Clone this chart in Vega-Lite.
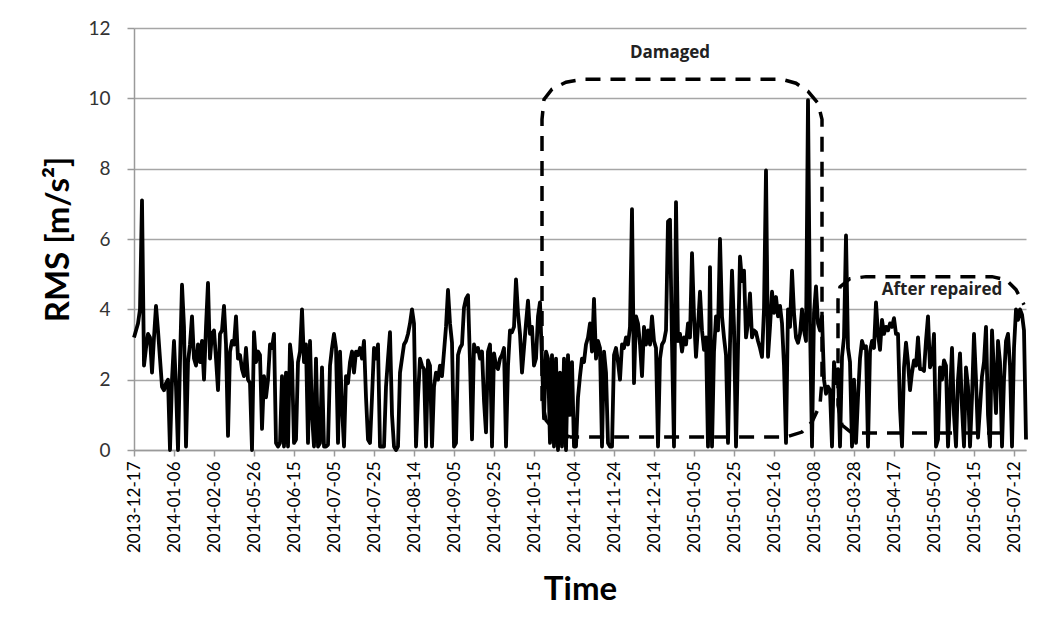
{
"$schema": "https://vega.github.io/schema/vega-lite/v6.json",
"width": 892, "height": 422,
"autosize": {"type": "none"},
"padding": {"left": 134, "top": 28, "right": 19, "bottom": 179},
"background": "white",
"config": {"view": {"stroke": null}, "font": "Lato"},
"datasets": {
"rms": [
{"d":"2013-12-17","v":3.2},{"d":"2013-12-18","v":3.4},{"d":"2013-12-19","v":3.6},{"d":"2013-12-20","v":4.0},{"d":"2013-12-21","v":7.1},{"d":"2013-12-22","v":2.4},{"d":"2013-12-23","v":2.9},{"d":"2013-12-24","v":3.3},{"d":"2013-12-25","v":3.2},{"d":"2013-12-26","v":2.2},{"d":"2013-12-27","v":3.2},{"d":"2013-12-28","v":4.1},{"d":"2013-12-29","v":3.4},{"d":"2013-12-30","v":2.6},{"d":"2013-12-31","v":1.8},{"d":"2014-01-01","v":1.7},{"d":"2014-01-02","v":1.9},{"d":"2014-01-03","v":2.0},{"d":"2014-01-04","v":0.0},{"d":"2014-01-05","v":2.0},
{"d":"2014-01-06","v":3.1},{"d":"2014-01-07","v":1.8},{"d":"2014-01-08","v":0.0},{"d":"2014-01-09","v":2.5},{"d":"2014-01-10","v":4.7},{"d":"2014-01-11","v":3.5},{"d":"2014-01-12","v":0.1},{"d":"2014-01-13","v":2.5},{"d":"2014-01-14","v":3.0},{"d":"2014-01-15","v":3.8},{"d":"2014-01-16","v":2.6},{"d":"2014-01-17","v":2.4},{"d":"2014-01-18","v":3.0},{"d":"2014-01-19","v":2.5},{"d":"2014-01-20","v":3.1},{"d":"2014-01-21","v":2.0},{"d":"2014-01-22","v":3.5},{"d":"2014-01-23","v":4.75},{"d":"2014-01-24","v":2.6},{"d":"2014-01-25","v":3.3},
{"d":"2014-02-06","v":3.4},{"d":"2014-02-07","v":2.6},{"d":"2014-02-08","v":1.7},{"d":"2014-02-09","v":3.3},{"d":"2014-02-10","v":3.4},{"d":"2014-02-11","v":4.1},{"d":"2014-02-12","v":3.0},{"d":"2014-02-13","v":0.4},{"d":"2014-02-14","v":2.8},{"d":"2014-02-15","v":3.1},{"d":"2014-02-16","v":3.0},{"d":"2014-02-17","v":3.8},{"d":"2014-02-18","v":2.6},{"d":"2014-02-19","v":2.7},{"d":"2014-02-20","v":2.3},{"d":"2014-02-21","v":2.1},{"d":"2014-02-22","v":2.9},{"d":"2014-02-23","v":2.0},{"d":"2014-02-24","v":1.9},{"d":"2014-02-25","v":0.0},
{"d":"2014-05-26","v":3.35},{"d":"2014-05-27","v":2.5},{"d":"2014-05-28","v":2.8},{"d":"2014-05-29","v":2.7},{"d":"2014-05-30","v":0.6},{"d":"2014-05-31","v":2.1},{"d":"2014-06-01","v":1.5},{"d":"2014-06-02","v":2.0},{"d":"2014-06-03","v":3.0},{"d":"2014-06-04","v":2.9},{"d":"2014-06-05","v":3.3},{"d":"2014-06-06","v":0.2},{"d":"2014-06-07","v":0.1},{"d":"2014-06-08","v":0.2},{"d":"2014-06-09","v":2.1},{"d":"2014-06-10","v":0.1},{"d":"2014-06-11","v":2.2},{"d":"2014-06-12","v":0.1},{"d":"2014-06-13","v":3.0},{"d":"2014-06-14","v":2.5},
{"d":"2014-06-15","v":0.2},{"d":"2014-06-16","v":0.3},{"d":"2014-06-17","v":2.5},{"d":"2014-06-18","v":2.8},{"d":"2014-06-19","v":4.0},{"d":"2014-06-20","v":2.5},{"d":"2014-06-21","v":3.0},{"d":"2014-06-22","v":0.2},{"d":"2014-06-23","v":3.1},{"d":"2014-06-24","v":1.0},{"d":"2014-06-25","v":0.1},{"d":"2014-06-26","v":2.6},{"d":"2014-06-27","v":0.1},{"d":"2014-06-28","v":0.2},{"d":"2014-06-29","v":2.35},{"d":"2014-06-30","v":0.1},{"d":"2014-07-01","v":0.1},{"d":"2014-07-02","v":0.15},{"d":"2014-07-03","v":2.4},{"d":"2014-07-04","v":2.9},
{"d":"2014-07-05","v":3.3},{"d":"2014-07-06","v":2.9},{"d":"2014-07-07","v":0.2},{"d":"2014-07-08","v":2.8},{"d":"2014-07-09","v":1.2},{"d":"2014-07-10","v":0.1},{"d":"2014-07-11","v":2.1},{"d":"2014-07-12","v":1.9},{"d":"2014-07-13","v":2.5},{"d":"2014-07-14","v":2.8},{"d":"2014-07-15","v":2.2},{"d":"2014-07-16","v":2.8},{"d":"2014-07-17","v":2.7},{"d":"2014-07-18","v":2.9},{"d":"2014-07-19","v":2.6},{"d":"2014-07-20","v":3.1},{"d":"2014-07-21","v":1.5},{"d":"2014-07-22","v":0.3},{"d":"2014-07-23","v":0.2},{"d":"2014-07-24","v":1.5},
{"d":"2014-07-25","v":2.9},{"d":"2014-07-26","v":2.6},{"d":"2014-07-27","v":3.0},{"d":"2014-07-28","v":0.1},{"d":"2014-07-29","v":0.1},{"d":"2014-07-30","v":0.1},{"d":"2014-07-31","v":1.8},{"d":"2014-08-01","v":2.6},{"d":"2014-08-02","v":3.35},{"d":"2014-08-03","v":1.0},{"d":"2014-08-04","v":0.1},{"d":"2014-08-05","v":0.0},{"d":"2014-08-06","v":0.1},{"d":"2014-08-07","v":2.2},{"d":"2014-08-08","v":2.6},{"d":"2014-08-09","v":3.0},{"d":"2014-08-10","v":3.1},{"d":"2014-08-11","v":3.3},{"d":"2014-08-12","v":3.6},{"d":"2014-08-13","v":4.0},
{"d":"2014-08-14","v":3.6},{"d":"2014-08-15","v":0.1},{"d":"2014-08-16","v":1.5},{"d":"2014-08-17","v":2.6},{"d":"2014-08-18","v":2.4},{"d":"2014-08-19","v":2.3},{"d":"2014-08-20","v":0.1},{"d":"2014-08-21","v":2.55},{"d":"2014-08-22","v":2.4},{"d":"2014-08-23","v":0.1},{"d":"2014-08-24","v":1.8},{"d":"2014-08-25","v":2.2},{"d":"2014-08-26","v":2.0},{"d":"2014-08-27","v":2.4},{"d":"2014-08-28","v":2.1},{"d":"2014-08-29","v":2.8},{"d":"2014-08-30","v":3.5},{"d":"2014-08-31","v":4.55},{"d":"2014-09-01","v":3.6},{"d":"2014-09-02","v":3.05},
{"d":"2014-09-05","v":0.1},{"d":"2014-09-06","v":0.2},{"d":"2014-09-07","v":2.7},{"d":"2014-09-08","v":2.9},{"d":"2014-09-09","v":3.0},{"d":"2014-09-10","v":4.05},{"d":"2014-09-11","v":4.3},{"d":"2014-09-12","v":4.4},{"d":"2014-09-13","v":2.5},{"d":"2014-09-14","v":0.3},{"d":"2014-09-15","v":3.0},{"d":"2014-09-16","v":2.8},{"d":"2014-09-17","v":2.9},{"d":"2014-09-18","v":2.6},{"d":"2014-09-19","v":2.8},{"d":"2014-09-20","v":1.4},{"d":"2014-09-21","v":0.5},{"d":"2014-09-22","v":2.8},{"d":"2014-09-23","v":3.0},{"d":"2014-09-24","v":0.1},
{"d":"2014-09-25","v":2.75},{"d":"2014-09-26","v":2.4},{"d":"2014-09-27","v":2.3},{"d":"2014-09-28","v":2.6},{"d":"2014-09-29","v":2.7},{"d":"2014-09-30","v":2.9},{"d":"2014-10-01","v":0.1},{"d":"2014-10-02","v":2.4},{"d":"2014-10-03","v":3.4},{"d":"2014-10-04","v":3.35},{"d":"2014-10-05","v":3.5},{"d":"2014-10-06","v":4.85},{"d":"2014-10-07","v":3.9},{"d":"2014-10-08","v":3.3},{"d":"2014-10-09","v":2.2},{"d":"2014-10-10","v":2.9},{"d":"2014-10-11","v":3.6},{"d":"2014-10-12","v":4.25},{"d":"2014-10-13","v":3.3},{"d":"2014-10-14","v":3.5},
{"d":"2014-10-15","v":2.4},{"d":"2014-10-16","v":2.6},{"d":"2014-10-17","v":3.8},{"d":"2014-10-18","v":4.2},{"d":"2014-10-19","v":2.5},{"d":"2014-10-20","v":0.9},{"d":"2014-10-21","v":2.8},{"d":"2014-10-22","v":2.6},{"d":"2014-10-23","v":0.2},{"d":"2014-10-24","v":2.7},{"d":"2014-10-25","v":0.1},{"d":"2014-10-26","v":2.6},{"d":"2014-10-27","v":0.0},{"d":"2014-10-28","v":2.2},{"d":"2014-10-29","v":0.1},{"d":"2014-10-30","v":2.6},{"d":"2014-10-31","v":0.0},{"d":"2014-11-01","v":2.7},{"d":"2014-11-02","v":1.0},{"d":"2014-11-03","v":2.5},
{"d":"2014-11-04","v":0.1},{"d":"2014-11-05","v":0.1},{"d":"2014-11-06","v":1.5},{"d":"2014-11-07","v":2.1},{"d":"2014-11-08","v":2.6},{"d":"2014-11-09","v":2.5},{"d":"2014-11-10","v":3.0},{"d":"2014-11-11","v":3.2},{"d":"2014-11-12","v":3.6},{"d":"2014-11-13","v":2.8},{"d":"2014-11-14","v":4.3},{"d":"2014-11-15","v":2.6},{"d":"2014-11-16","v":3.1},{"d":"2014-11-17","v":2.9},{"d":"2014-11-18","v":0.1},{"d":"2014-11-19","v":2.8},{"d":"2014-11-20","v":2.2},{"d":"2014-11-21","v":0.2},{"d":"2014-11-22","v":0.1},{"d":"2014-11-23","v":0.1},
{"d":"2014-11-24","v":2.7},{"d":"2014-11-25","v":2.9},{"d":"2014-11-26","v":2.5},{"d":"2014-11-27","v":2.0},{"d":"2014-11-28","v":3.0},{"d":"2014-11-29","v":2.9},{"d":"2014-11-30","v":3.2},{"d":"2014-12-01","v":3.0},{"d":"2014-12-02","v":3.5},{"d":"2014-12-03","v":6.85},{"d":"2014-12-04","v":1.9},{"d":"2014-12-05","v":3.8},{"d":"2014-12-06","v":3.6},{"d":"2014-12-07","v":3.0},{"d":"2014-12-08","v":2.1},{"d":"2014-12-09","v":3.5},{"d":"2014-12-10","v":3.0},{"d":"2014-12-11","v":3.4},{"d":"2014-12-12","v":3.0},{"d":"2014-12-13","v":3.8},
{"d":"2014-12-14","v":3.1},{"d":"2014-12-15","v":2.9},{"d":"2014-12-16","v":0.1},{"d":"2014-12-17","v":2.6},{"d":"2014-12-18","v":3.0},{"d":"2014-12-19","v":3.1},{"d":"2014-12-20","v":3.4},{"d":"2014-12-21","v":6.5},{"d":"2014-12-22","v":6.55},{"d":"2014-12-23","v":3.0},{"d":"2014-12-24","v":0.1},{"d":"2014-12-25","v":7.05},{"d":"2014-12-26","v":3.1},{"d":"2014-12-27","v":3.3},{"d":"2014-12-28","v":2.8},{"d":"2014-12-29","v":3.2},{"d":"2014-12-30","v":3.0},{"d":"2014-12-31","v":3.6},{"d":"2015-01-01","v":3.2},{"d":"2015-01-02","v":5.6},
{"d":"2015-01-05","v":3.8},{"d":"2015-01-06","v":2.65},{"d":"2015-01-07","v":3.5},{"d":"2015-01-08","v":4.5},{"d":"2015-01-09","v":3.4},{"d":"2015-01-10","v":2.85},{"d":"2015-01-11","v":3.2},{"d":"2015-01-12","v":0.1},{"d":"2015-01-13","v":5.2},{"d":"2015-01-14","v":0.1},{"d":"2015-01-15","v":2.8},{"d":"2015-01-16","v":3.8},{"d":"2015-01-17","v":3.4},{"d":"2015-01-18","v":6.0},{"d":"2015-01-19","v":3.8},{"d":"2015-01-20","v":3.2},{"d":"2015-01-21","v":2.7},{"d":"2015-01-22","v":0.2},{"d":"2015-01-23","v":3.0},{"d":"2015-01-24","v":5.1},
{"d":"2015-01-25","v":3.5},{"d":"2015-01-26","v":0.1},{"d":"2015-01-27","v":2.9},{"d":"2015-01-28","v":5.5},{"d":"2015-01-29","v":4.8},{"d":"2015-01-30","v":5.1},{"d":"2015-01-31","v":3.2},{"d":"2015-02-01","v":3.6},{"d":"2015-02-02","v":4.45},{"d":"2015-02-03","v":3.2},{"d":"2015-02-04","v":3.4},{"d":"2015-02-05","v":3.35},{"d":"2015-02-06","v":3.1},{"d":"2015-02-07","v":2.9},{"d":"2015-02-08","v":2.65},{"d":"2015-02-09","v":4.0},{"d":"2015-02-10","v":7.95},{"d":"2015-02-11","v":2.65},{"d":"2015-02-12","v":3.5},{"d":"2015-02-13","v":4.5},
{"d":"2015-02-16","v":3.9},{"d":"2015-02-17","v":4.35},{"d":"2015-02-18","v":3.8},{"d":"2015-02-19","v":4.1},{"d":"2015-02-20","v":3.6},{"d":"2015-02-21","v":2.4},{"d":"2015-02-22","v":0.2},{"d":"2015-02-23","v":4.0},{"d":"2015-02-24","v":3.5},{"d":"2015-02-25","v":5.1},{"d":"2015-02-26","v":3.9},{"d":"2015-02-27","v":3.2},{"d":"2015-02-28","v":3.05},{"d":"2015-03-01","v":3.3},{"d":"2015-03-02","v":4.0},{"d":"2015-03-03","v":3.4},{"d":"2015-03-04","v":3.1},{"d":"2015-03-05","v":9.95},{"d":"2015-03-06","v":3.6},{"d":"2015-03-07","v":0.1},
{"d":"2015-03-08","v":3.9},{"d":"2015-03-09","v":4.65},{"d":"2015-03-10","v":3.6},{"d":"2015-03-11","v":3.4},{"d":"2015-03-12","v":3.8},{"d":"2015-03-13","v":2.0},{"d":"2015-03-14","v":1.6},{"d":"2015-03-15","v":1.8},{"d":"2015-03-16","v":1.7},{"d":"2015-03-17","v":0.1},{"d":"2015-03-18","v":2.5},{"d":"2015-03-19","v":1.9},{"d":"2015-03-20","v":2.3},{"d":"2015-03-21","v":0.1},{"d":"2015-03-22","v":2.65},{"d":"2015-03-23","v":3.2},{"d":"2015-03-24","v":6.1},{"d":"2015-03-25","v":2.9},{"d":"2015-03-26","v":2.5},{"d":"2015-03-27","v":0.1},
{"d":"2015-03-28","v":2.0},{"d":"2015-03-29","v":0.2},{"d":"2015-03-30","v":1.5},{"d":"2015-03-31","v":2.6},{"d":"2015-04-01","v":3.1},{"d":"2015-04-02","v":2.9},{"d":"2015-04-03","v":2.95},{"d":"2015-04-04","v":0.1},{"d":"2015-04-05","v":2.8},{"d":"2015-04-06","v":3.1},{"d":"2015-04-07","v":2.9},{"d":"2015-04-08","v":4.2},{"d":"2015-04-09","v":3.3},{"d":"2015-04-10","v":2.85},{"d":"2015-04-11","v":3.7},{"d":"2015-04-12","v":3.3},{"d":"2015-04-13","v":3.5},{"d":"2015-04-14","v":3.4},{"d":"2015-04-15","v":3.6},{"d":"2015-04-16","v":3.5},
{"d":"2015-04-17","v":3.75},{"d":"2015-04-18","v":3.3},{"d":"2015-04-19","v":3.3},{"d":"2015-04-20","v":1.2},{"d":"2015-04-21","v":0.1},{"d":"2015-04-22","v":2.35},{"d":"2015-04-23","v":3.05},{"d":"2015-04-24","v":2.5},{"d":"2015-04-25","v":1.7},{"d":"2015-04-26","v":2.2},{"d":"2015-04-27","v":2.55},{"d":"2015-04-28","v":2.4},{"d":"2015-04-29","v":3.2},{"d":"2015-04-30","v":2.3},{"d":"2015-05-01","v":2.3},{"d":"2015-05-02","v":2.25},{"d":"2015-05-03","v":3.1},{"d":"2015-05-04","v":3.8},{"d":"2015-05-05","v":2.35},{"d":"2015-05-06","v":2.5},
{"d":"2015-05-07","v":3.3},{"d":"2015-05-08","v":0.1},{"d":"2015-05-09","v":0.3},{"d":"2015-05-10","v":2.35},{"d":"2015-05-11","v":2.0},{"d":"2015-05-12","v":2.55},{"d":"2015-05-13","v":2.4},{"d":"2015-05-14","v":0.1},{"d":"2015-05-15","v":1.5},{"d":"2015-05-16","v":2.9},{"d":"2015-05-17","v":1.0},{"d":"2015-05-18","v":0.1},{"d":"2015-05-19","v":2.0},{"d":"2015-05-20","v":2.75},{"d":"2015-05-21","v":1.2},{"d":"2015-05-22","v":0.1},{"d":"2015-05-23","v":2.35},{"d":"2015-05-24","v":1.8},{"d":"2015-05-25","v":0.1},{"d":"2015-05-26","v":1.5},
{"d":"2015-06-15","v":3.3},{"d":"2015-06-16","v":2.0},{"d":"2015-06-17","v":0.35},{"d":"2015-06-18","v":1.2},{"d":"2015-06-19","v":2.1},{"d":"2015-06-20","v":2.5},{"d":"2015-06-21","v":3.5},{"d":"2015-06-22","v":1.0},{"d":"2015-06-23","v":0.1},{"d":"2015-06-24","v":3.4},{"d":"2015-06-25","v":2.2},{"d":"2015-06-26","v":1.05},{"d":"2015-06-27","v":3.1},{"d":"2015-06-28","v":2.5},{"d":"2015-06-29","v":0.1},{"d":"2015-06-30","v":2.0},{"d":"2015-07-01","v":3.1},{"d":"2015-07-02","v":3.3},{"d":"2015-07-03","v":2.4},{"d":"2015-07-04","v":0.1},
{"d":"2015-07-12","v":2.9},{"d":"2015-07-13","v":4.0},{"d":"2015-07-14","v":3.7},{"d":"2015-07-15","v":4.0},{"d":"2015-07-16","v":3.85},{"d":"2015-07-17","v":3.4},{"d":"2015-07-18","v":0.3}
],
"boxes": [
{"box":"damaged","o":1,"d":"2014-11-02","v":0.37},{"box":"damaged","o":2,"d":"2014-10-26","v":0.51},{"box":"damaged","o":3,"d":"2014-10-21","v":0.85},{"box":"damaged","o":4,"d":"2014-10-19","v":1.42},{"box":"damaged","o":5,"d":"2014-10-19","v":9.4},{"box":"damaged","o":6,"d":"2014-10-20","v":9.97},{"box":"damaged","o":7,"d":"2014-10-24","v":10.26},{"box":"damaged","o":8,"d":"2014-10-31","v":10.46},{"box":"damaged","o":9,"d":"2014-11-08","v":10.54},{"box":"damaged","o":10,"d":"2015-02-20","v":10.54},{"box":"damaged","o":11,"d":"2015-02-27","v":10.43},{"box":"damaged","o":12,"d":"2015-03-05","v":10.2},{"box":"damaged","o":13,"d":"2015-03-10","v":9.86},{"box":"damaged","o":14,"d":"2015-03-12","v":9.4},{"box":"damaged","o":15,"d":"2015-03-12","v":2.0},{"box":"damaged","o":16,"d":"2015-03-11","v":1.28},{"box":"damaged","o":17,"d":"2015-03-07","v":0.8},{"box":"damaged","o":18,"d":"2015-03-02","v":0.51},{"box":"damaged","o":19,"d":"2015-02-22","v":0.37},{"box":"damaged","o":20,"d":"2014-11-02","v":0.37},
{"box":"repaired","o":1,"d":"2015-06-29","v":0.48},{"box":"repaired","o":2,"d":"2015-03-27","v":0.48},{"box":"repaired","o":3,"d":"2015-03-22","v":0.71},{"box":"repaired","o":4,"d":"2015-03-20","v":1.28},{"box":"repaired","o":5,"d":"2015-03-20","v":4.27},{"box":"repaired","o":6,"d":"2015-03-21","v":4.64},{"box":"repaired","o":7,"d":"2015-03-26","v":4.87},{"box":"repaired","o":8,"d":"2015-04-03","v":4.93},{"box":"repaired","o":9,"d":"2015-06-24","v":4.93},{"box":"repaired","o":10,"d":"2015-07-01","v":4.84},{"box":"repaired","o":11,"d":"2015-07-13","v":4.56},{"box":"repaired","o":12,"d":"2015-07-17","v":4.13}
],
"notes": [
{"d":"2014-12-22","v":11.3,"label":"Damaged"},
{"d":"2015-05-11","v":4.55,"label":"After repaired"}
]
},
"encoding": {
"x": {"field": "d", "type": "ordinal", "scale": {"type": "point", "padding": 0},
 "axis": {"values": ["2013-12-17","2014-01-06","2014-02-06","2014-05-26","2014-06-15","2014-07-05","2014-07-25","2014-08-14","2014-09-05","2014-09-25","2014-10-15","2014-11-04","2014-11-24","2014-12-14","2015-01-05","2015-01-25","2015-02-16","2015-03-08","2015-03-28","2015-04-17","2015-05-07","2015-06-15","2015-07-12"],
  "labelAngle": -90, "labelFontSize": 17, "labelColor": "#000000", "labelPadding": 5, "labelOverlap": false, "labelBound": false,
  "tickSize": 6, "tickColor": "#9a9a9a", "tickWidth": 1.5, "domainColor": "#9a9a9a", "domainWidth": 1.5, "grid": false,
  "title": "Time", "titleFontSize": 33, "titleFontWeight": "bold", "titleColor": "#000000", "titleBaseline": "alphabetic", "titleY": 149, "titleX": 446}},
"y": {"field": "v", "type": "quantitative", "scale": {"domain": [0, 12], "nice": false},
 "axis": {"values": [0,2,4,6,8,10,12], "labelFontSize": 19, "labelColor": "#333333", "labelPadding": 17,
  "tickSize": 7, "tickColor": "#9a9a9a", "tickWidth": 1.5, "domainColor": "#9a9a9a", "domainWidth": 1.5,
  "grid": true, "gridColor": "#a6a6a6", "gridWidth": 1.5,
  "title": "RMS [m/s²]", "titleFontSize": 33, "titleFontWeight": "bold", "titleColor": "#000000", "titleBaseline": "alphabetic", "titleX": -66}}
},
"layer": [
{"data": {"name": "rms"}, "mark": {"type": "line", "color": "#000000", "strokeWidth": 3.8, "strokeJoin": "round"}},
{"data": {"name": "boxes"}, "mark": {"type": "line", "color": "#000000", "strokeWidth": 3.5, "strokeDash": [15, 10]},
 "encoding": {"detail": {"field": "box"}, "order": {"field": "o", "type": "quantitative"}}},
{"data": {"name": "notes"}, "mark": {"type": "text", "font": "Open Sans", "fontWeight": "bold", "fontSize": 17, "color": "#222222"},
 "encoding": {"text": {"field": "label"}}}
]
}
